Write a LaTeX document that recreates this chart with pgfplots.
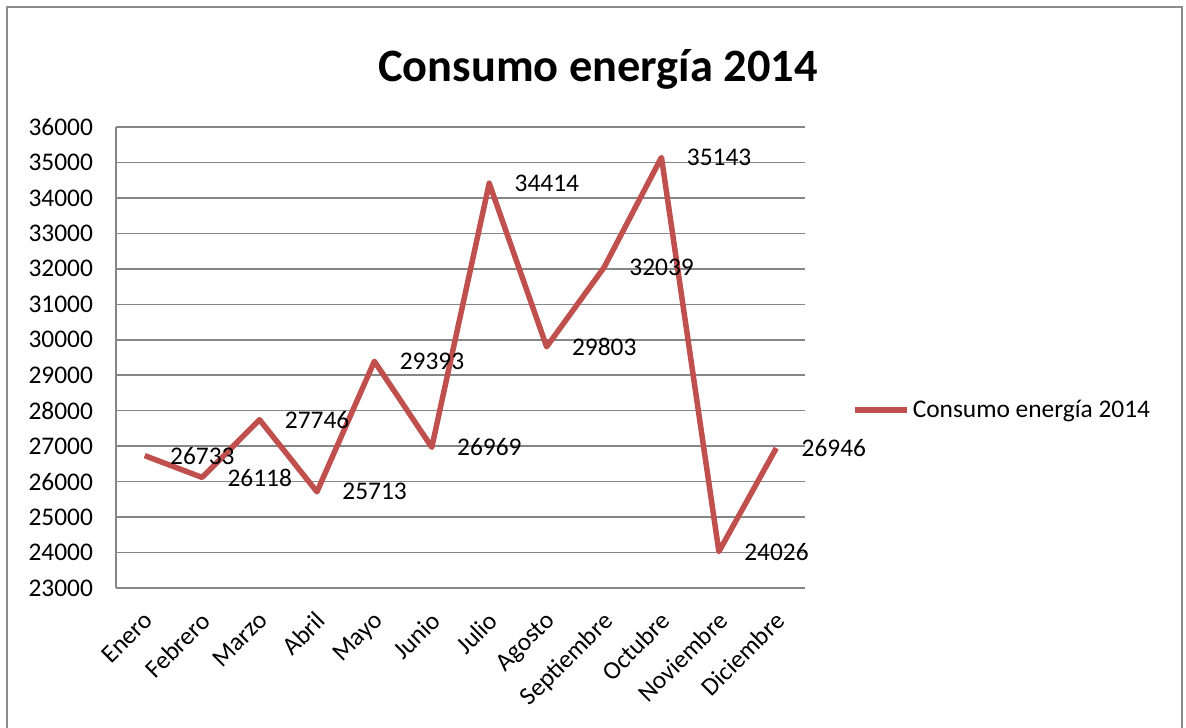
\documentclass[border=0pt]{standalone}
\usepackage{fontspec}
\setmainfont{Carlito}
\usepackage{pgfplots}
\pgfplotsset{compat=1.18}
\definecolor{serie}{RGB}{192,80,77}
\definecolor{gridc}{RGB}{134,134,134}
\definecolor{framec}{RGB}{140,140,140}
\begin{document}
\begin{tikzpicture}
\path[use as bounding box] (0,0) rectangle (593pt,363.5pt);
\draw[framec, line width=1pt] (3.5pt,-2pt) -- (3.5pt,360pt) -- (591pt,360pt) -- (591pt,-2pt);
\node[anchor=base, inner sep=0pt, font=\fontsize{23.2}{28}\selectfont\bfseries] at (299pt,322.5pt) {Consumo energía 2014};
\begin{axis}[
  at={(58pt,69.5pt)}, anchor=south west,
  scale only axis, width=344.5pt, height=230.5pt,
  xmin=-0.5, xmax=11.5, ymin=23000, ymax=36000,
  ytick distance=1000,
  scaled y ticks=false,
  xtick={0,...,11},
  xticklabels={Enero,Febrero,Marzo,Abril,Mayo,Junio,Julio,Agosto,Septiembre,Octubre,Noviembre,Diciembre},
  axis x line*=bottom, axis y line*=left,
  axis line style={gridc, line width=0.75pt, -},
  ymajorgrids, grid style={gridc, line width=0.75pt},
  major tick length=0pt,
  tick label style={font=\fontsize{12.7}{15}\selectfont, text=black},
  /pgf/number format/assume math mode=true,
  /pgf/number format/1000 sep={},
  yticklabel style={xshift=-8pt},
  xticklabel style={xshift=-1.2pt, yshift=-6.1pt, rotate=45, anchor=north east},
  legend style={at={(1.068,0.386)}, anchor=west, draw=none, fill=none, inner sep=0pt,
    font=\fontsize{12.7}{15}\selectfont, nodes={inner xsep=1.5pt}},
  legend cell align=left,
  legend image code/.code={\draw[serie, line width=2.75pt] (-3pt,0pt) -- (23pt,0pt);},
  clip=false,
]
\addplot[serie, line width=2.75pt, line join=round, no markers,
  nodes near coords,
  every node near coord/.append style={anchor=west, xshift=8pt, text=black,
    font=\fontsize{12.7}{15}\selectfont},
] coordinates {
  (0,26733) (1,26118) (2,27746) (3,25713) (4,29393) (5,26969)
  (6,34414) (7,29803) (8,32039) (9,35143) (10,24026) (11,26946)
};
\addlegendentry{Consumo energía 2014}
\end{axis}
\end{tikzpicture}
\end{document}
